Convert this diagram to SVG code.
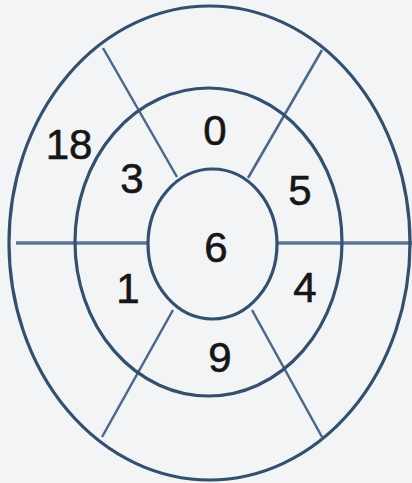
<svg xmlns="http://www.w3.org/2000/svg" width="412" height="483" viewBox="0 0 412 483">
<style>
.ring{fill:none;stroke:#34506f;stroke-width:3.2}
.spoke{stroke:#4b6889;stroke-width:2.5;fill:none}
.hz{stroke:#5a7694;stroke-width:3.5;fill:none}
.num{font-family:"Liberation Sans","DejaVu Sans",sans-serif;font-size:42px;fill:#161616;text-anchor:middle;stroke:#161616;stroke-width:0.6}
</style>
<rect width="412" height="483" fill="#f3f4f6"/>
<g id="connectors">
<line class="hz" x1="16" y1="243" x2="148" y2="243"/>
<line class="hz" x1="278" y1="243" x2="412" y2="243"/>
<line class="spoke" x1="103" y1="48" x2="177" y2="177"/>
<line class="spoke" x1="322" y1="50" x2="248" y2="178"/>
<line class="spoke" x1="173" y1="310" x2="102" y2="437"/>
<line class="spoke" x1="252" y1="310" x2="322" y2="437"/>
</g>
<g id="outer"><ellipse class="ring" cx="209.5" cy="243" rx="200.5" ry="237"/></g>
<g id="middle"><ellipse class="ring" cx="208.5" cy="242" rx="133.5" ry="154"/></g>
<g id="inner"><ellipse class="ring" cx="212.5" cy="244" rx="64.5" ry="75"/></g>
<g id="labels">
<g id="n6"><text class="num" x="216" y="262">6</text></g>
<g id="n0"><text class="num" x="215" y="145">0</text></g>
<g id="n3"><text class="num" x="132" y="193">3</text></g>
<g id="n5"><text class="num" x="300" y="205">5</text></g>
<g id="n1"><text class="num" x="128" y="303">1</text></g>
<g id="n4"><text class="num" x="305" y="302">4</text></g>
<g id="n9"><text class="num" x="220" y="372">9</text></g>
<g id="n18"><text class="num" x="69" y="159">18</text></g>
</g>
</svg>
